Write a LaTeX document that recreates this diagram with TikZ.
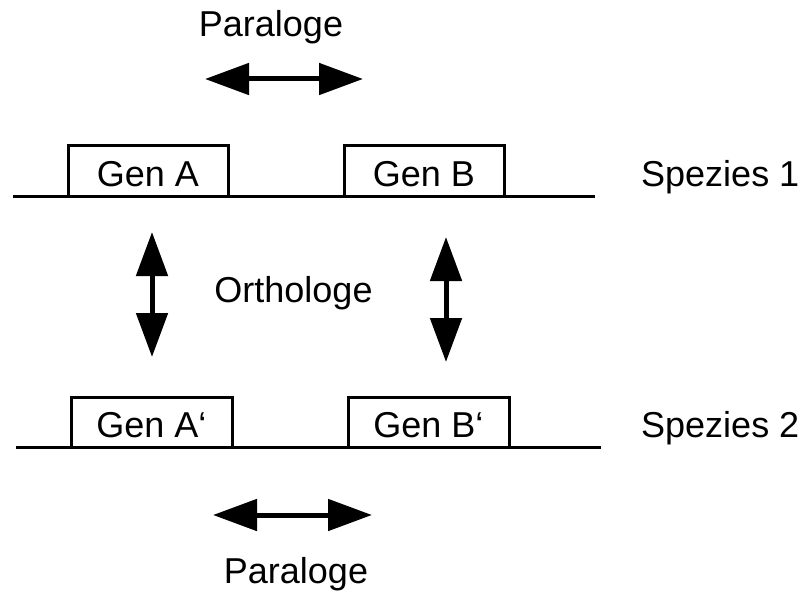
\documentclass[tikz,border=0pt]{standalone}
\usepackage{fontspec}
\setmainfont{Liberation Sans}
\usetikzlibrary{arrows.meta, positioning}
\tikzset{
  genbox/.style={
    rectangle, draw=black, line width=3pt, fill=white,
    minimum width=160pt, minimum height=50pt, inner sep=0pt,
    text height=32pt, font=\fontsize{36}{40}\selectfont
  },
  txt/.style={inner sep=0pt, font=\fontsize{36}{40}\selectfont},
  strand/.style={line width=3pt, black},
  dblarrow/.style={
    {Triangle[length=44pt,width=31pt]}-{Triangle[length=44pt,width=31pt]},
    line width=5pt
  }
}
\begin{document}
\begin{tikzpicture}[x=1pt, y=-1pt]
  \useasboundingbox (0,0) rectangle (807,594);

  % DNA-Strang der Spezies 1 und 2
  \coordinate (s1l) at (13,196);
  \coordinate (s1r) at (595,196);
  \coordinate (s2l) at (16,447);
  \coordinate (s2r) at (601,447);
  \draw[strand] (s1l) -- (s1r);
  \draw[strand] (s2l) -- (s2r);

  % Gene
  \node[genbox] (genA)  at (148,171)   {Gen A};
  \node[genbox] (genB)  at (424,171)   {Gen B};
  \node[genbox, minimum width=161pt] (genA2) at (151.5,422) {Gen A‘};
  \node[genbox, minimum width=161pt] (genB2) at (428.5,422) {Gen B‘};

  % Beschriftungen
  \node[txt, anchor=base west] (sp1) at (641,186) {Spezies 1};
  \node[txt, anchor=base west] (sp2) at (641,437) {Spezies 2};
  \node[txt, anchor=base] (paraTop) at (271,37)    {Paraloge};
  \node[txt, anchor=base] (ortho)   at (293.5,302) {Orthologe};
  \node[txt, anchor=base] (paraBot) at (296,583)   {Paraloge};

  % Pfeilenden
  \coordinate (pt1) at (205,79);
  \coordinate (pt2) at (363,79);
  \coordinate (pb1) at (213,515);
  \coordinate (pb2) at (372,515);
  \coordinate (oa1) at (152,232);
  \coordinate (oa2) at (152,357);
  \coordinate (ob1) at (446,237);
  \coordinate (ob2) at (446,362);

  % Pfeile
  \draw[dblarrow] (pt1) -- (pt2);
  \draw[dblarrow] (pb1) -- (pb2);
  \draw[dblarrow] (oa1) -- (oa2);
  \draw[dblarrow] (ob1) -- (ob2);
\end{tikzpicture}
\end{document}
